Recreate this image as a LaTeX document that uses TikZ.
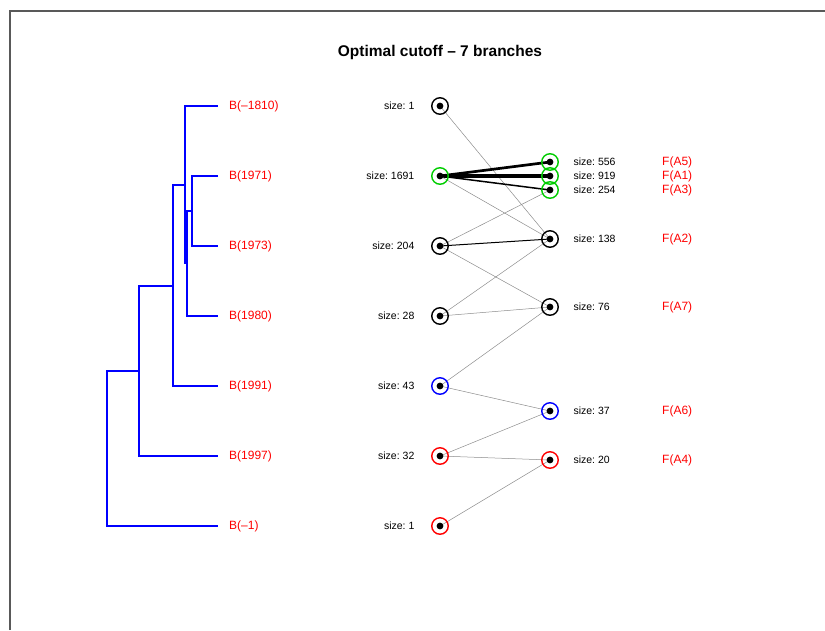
\documentclass[tikz,border=0pt]{standalone}
\usepackage{fontspec}
\setmainfont{Liberation Sans}
\frenchspacing
\usetikzlibrary{positioning, backgrounds}
\definecolor{grn}{RGB}{0,205,0}
\tikzset{
    grp/.style={circle, draw=#1, line width=1.4pt, minimum size=16.5pt, inner sep=0pt,
        path picture={\fill[black](path picture bounding box.center) circle (3.4pt);}},
    grp/.default=black,
    sz/.style={inner sep=0pt, font=\fontsize{10.5}{12}\selectfont},
    lab/.style={inner sep=0pt, anchor=west, text=red, font=\fontsize{12}{14}\selectfont},
    tree/.style={blue, line width=2pt},
    gline/.style={black!45, line width=.5pt}
}
\begin{document}
\begin{tikzpicture}[x=1pt, y=-1pt]
    \useasboundingbox(0, 0) rectangle (825, 630);
    \draw[black!65, line width=1.2pt](10, 630)--(10, 11)--(825, 11);
    \node[font=\bfseries\fontsize{15.5}{18}\selectfont](title) at (440, 52){Optimal cutoff -- 7 branches};
    \draw[tree](218, 176)-|(191.7, 246)--(218, 246);
    \draw[tree](191.7, 211)-|(186.7, 316)--(218, 316);
    \draw[tree](186.7, 263)-|(185, 106)--(218, 106);
    \draw[tree](185, 185)-|(172.7, 386)--(218, 386);
    \draw[tree](172.7, 286)-|(139.3, 456)--(218, 456);
    \draw[tree](139.3, 371)-|(106.7, 526)--(218, 526);
    \node[lab](bl1) at (229, 106){B(--1810)};
    \node[lab](bl2) at (229, 176){B(1971)};
    \node[lab](bl3) at (229, 246){B(1973)};
    \node[lab](bl4) at (229, 316){B(1980)};
    \node[lab](bl5) at (229, 386){B(1991)};
    \node[lab](bl6) at (229, 456){B(1997)};
    \node[lab](bl7) at (229, 526){B(--1)};
    \node[grp](l1) at (440, 106){};
    \node[grp=grn](l2) at (440, 176){};
    \node[grp](l3) at (440, 246){};
    \node[grp](l4) at (440, 316){};
    \node[grp=blue](l5) at (440, 386){};
    \node[grp=red](l6) at (440, 456){};
    \node[grp=red](l7) at (440, 526){};
    \node[grp=grn](a5) at (550, 162){};
    \node[grp=grn](a1) at (550, 176){};
    \node[grp=grn](a3) at (550, 190){};
    \node[grp](a2) at (550, 239){};
    \node[grp](a7) at (550, 307){};
    \node[grp=blue](a6) at (550, 411){};
    \node[grp=red](a4) at (550, 460){};
    \node[sz, left=16.5pt of l1](l1s){size: 1};
    \node[sz, left=16.5pt of l2](l2s){size: 1691};
    \node[sz, left=16.5pt of l3](l3s){size: 204};
    \node[sz, left=16.5pt of l4](l4s){size: 28};
    \node[sz, left=16.5pt of l5](l5s){size: 43};
    \node[sz, left=16.5pt of l6](l6s){size: 32};
    \node[sz, left=16.5pt of l7](l7s){size: 1};
    \node[sz, right=14.4pt of a5](a5s){size: 556};
    \node[sz, right=14.4pt of a1](a1s){size: 919};
    \node[sz, right=14.4pt of a3](a3s){size: 254};
    \node[sz, right=14.4pt of a2](a2s){size: 138};
    \node[sz, right=14.4pt of a7](a7s){size: 76};
    \node[sz, right=14.4pt of a6](a6s){size: 37};
    \node[sz, right=14.4pt of a4](a4s){size: 20};
    \node[lab](fa5) at (662, 162){F(A5)};
    \node[lab](fa1) at (662, 176){F(A1)};
    \node[lab](fa3) at (662, 190){F(A3)};
    \node[lab](fa2) at (662, 239){F(A2)};
    \node[lab](fa7) at (662, 307){F(A7)};
    \node[lab](fa6) at (662, 411){F(A6)};
    \node[lab](fa4) at (662, 460){F(A4)};
    \begin{scope}[on background layer]
        \draw[gline](l1.center)--(a2.center);
        \draw[line width=2.7pt](l2.center)--(a5.center);
        \draw[line width=4pt](l2.center)--(a1.center);
        \draw[line width=1.5pt](l2.center)--(a3.center);
        \draw[gline](l2.center)--(a2.center);
        \draw[gline](l3.center)--(a3.center);
        \draw[line width=1pt](l3.center)--(a2.center);
        \draw[gline](l3.center)--(a7.center);
        \draw[gline](l4.center)--(a2.center);
        \draw[gline](l4.center)--(a7.center);
        \draw[gline](l5.center)--(a7.center);
        \draw[gline](l5.center)--(a6.center);
        \draw[gline](l6.center)--(a6.center);
        \draw[gline](l6.center)--(a4.center);
        \draw[gline](l7.center)--(a4.center);
    \end{scope}
\end{tikzpicture}
\end{document}
